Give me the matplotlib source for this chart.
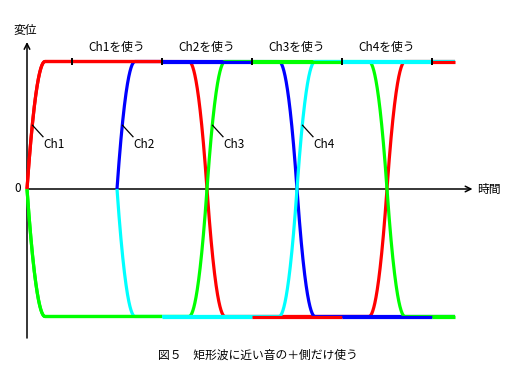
import numpy as np
import matplotlib
matplotlib.use('Agg')
import matplotlib.pyplot as plt

plt.rcParams['font.family'] = ['Noto Sans CJK JP', 'DejaVu Sans']

# four channels, each a rounded square wave
channels = ['Ch1', 'Ch2', 'Ch3', 'Ch4']
colors = ['#ff0000', '#0000ff', '#00ff00', '#00ffff']
start_times = [0.0, 1.0, 0.0, 1.0]
start_dirs = [1, 1, -1, -1]
half_period = 2.0
rise_time = 0.2
end_time = 4.756

# which channel sits on the + side / - side in each section
section_edges = [0.0, 1.5, 2.5, 3.5, 4.5, end_time]
section_top = [0, 1, 2, 3, 0]
section_bottom = [2, 3, 0, 1, 2]
tick_times = [0.5, 1.5, 2.5, 3.5, 4.5]
use_labels = ['Ch1を使う', 'Ch2を使う', 'Ch3を使う', 'Ch4を使う']
use_label_times = [1.0, 2.0, 3.0, 4.0]

caption = '図５　矩形波に近い音の＋側だけ使う'


def wave(t, t0, d):
    ph = t - t0
    k = np.floor(ph / half_period)
    sign = d * np.where(k % 2 == 0, 1, -1)
    r = ph - k * half_period
    dist = np.clip(np.minimum(r, half_period - r) / rise_time, 0, 1)
    return sign * (1 - (1 - dist) ** 2)


fig = plt.figure(figsize=(5.12, 3.84), dpi=100)
ax = fig.add_axes([0, 0, 1, 1])
ax.set_xlim(-27 / 90, 485 / 90)
ax.set_ylim(-195 / 127.5, 189 / 127.5)
ax.axis('off')

lw = 2.3

# axes with arrows
ax.annotate('', xy=(0, 1.153), xytext=(0, -1.169),
            arrowprops=dict(arrowstyle='->', lw=1.1, color='black',
                            shrinkA=0, shrinkB=0), zorder=1)
ax.annotate('', xy=(4.95, 0), xytext=(0, 0),
            arrowprops=dict(arrowstyle='->', lw=1.1, color='black',
                            shrinkA=0, shrinkB=0), zorder=1)

# full curves
for i in range(4):
    t = np.linspace(start_times[i], end_time, 3000)
    ax.plot(t, wave(t, start_times[i], start_dirs[i]), color=colors[i],
            lw=lw, solid_capstyle='butt', zorder=2)

# the channel in use is drawn on top in its section
for j in range(len(section_top)):
    a, b = section_edges[j], section_edges[j + 1]
    for i in (section_bottom[j], section_top[j]):
        t = np.linspace(max(a, start_times[i]), b, 800)
        ax.plot(t, wave(t, start_times[i], start_dirs[i]), color=colors[i],
                lw=lw, solid_capstyle='butt', zorder=3 + j)

ax.vlines(tick_times, 1 - 0.028, 1 + 0.028, color='black', lw=1.4, zorder=10)

for lab, tm in zip(use_labels, use_label_times):
    ax.text(tm, 1.106, lab, ha='center', va='center', fontsize=8.5)

# channel labels with leader lines
for i in range(4):
    t0 = start_times[i] if i < 2 else start_times[i] + half_period
    ax.plot([t0 + 5.5 / 90, t0 + 16 / 90], [0.5, 0.41], color='black', lw=0.9, zorder=10)
    ax.text(t0 + 16 / 90, 0.35, channels[i], ha='left', va='center', fontsize=8.5)

ax.text(-0.022, 1.247, '変位', ha='center', va='center', fontsize=8.5)
ax.text(-0.1, 0, '0', ha='center', va='center', fontsize=8.5, style='italic')
ax.text(5.133, 0, '時間', ha='center', va='center', fontsize=8.5)
ax.text(2.567, -1.302, caption, ha='center', va='center', fontsize=8.5)

fig.savefig('out.png', dpi=100)
